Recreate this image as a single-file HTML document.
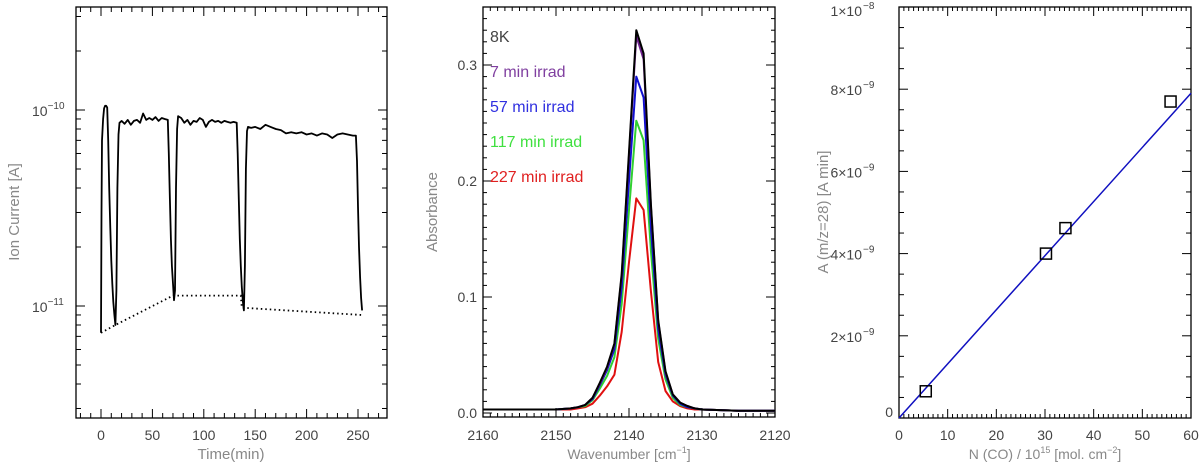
<!DOCTYPE html>
<html><head><meta charset="utf-8"><style>
body{margin:0;background:#fff;}
svg text{font-family:"Liberation Sans",sans-serif;}
</style></head><body>
<svg id="fig" width="1200" height="467" viewBox="0 0 1200 467" xmlns="http://www.w3.org/2000/svg"></svg>
<script>
// ---- Panel 1 data (ion current vs time) ----
const p1Time = [0,0.5,1,2,3,4,5,6,7,8,9,10,11,12,13,14,15,16,17,18,20,23,26,29,32,35,38,41,44,47,50,53,56,59,62,65,66,67,68,69,70,71,72,73,74,75,78,81,84,87,90,93,96,99,102,105,108,111,114,117,120,123,126,129,132,133,134,135,136,137,138,139,140,141,142,143,146,150,155,160,165,170,175,180,185,190,195,200,205,210,215,220,225,230,235,240,245,248,249,250,251,252,253,254];
const p1Current = [7.3e-12,3e-11,7e-11,9e-11,1.02e-10,1.05e-10,1.05e-10,1.03e-10,7e-11,4e-11,2.5e-11,1.7e-11,1.3e-11,1.05e-11,9e-12,8e-12,1.2e-11,4e-11,7.5e-11,8.6e-11,8.8e-11,8.5e-11,8.9e-11,8.4e-11,8.8e-11,8.9e-11,8.6e-11,9.6e-11,8.9e-11,9.1e-11,8.9e-11,9.2e-11,8.8e-11,9.1e-11,9.0e-11,8.9e-11,6e-11,3.5e-11,2.2e-11,1.6e-11,1.3e-11,1.07e-11,1.2e-11,4e-11,8e-11,9.3e-11,9.1e-11,8.6e-11,8.9e-11,8.4e-11,8.8e-11,8.7e-11,9.1e-11,8.9e-11,8.2e-11,8.7e-11,8.9e-11,8.7e-11,8.8e-11,8.6e-11,8.8e-11,8.7e-11,8.6e-11,8.7e-11,8.6e-11,6e-11,3.5e-11,2.2e-11,1.6e-11,1.25e-11,1.05e-11,9.5e-12,1.6e-11,5e-11,7.8e-11,8.2e-11,8.1e-11,8.2e-11,8.0e-11,8.4e-11,8.2e-11,8.0e-11,7.9e-11,7.6e-11,7.7e-11,7.6e-11,7.7e-11,7.5e-11,7.6e-11,7.4e-11,7.6e-11,7.5e-11,7.2e-11,7.5e-11,7.6e-11,7.5e-11,7.4e-11,7.4e-11,5.5e-11,3.2e-11,2e-11,1.4e-11,1.1e-11,9.5e-12];
const p1BaseTime = [0,14,70,136,137,254];
const p1BaseCurrent = [7.3e-12,8e-12,1.13e-11,1.13e-11,9.8e-12,9.0e-12];
const p1XTicks = [0,50,100,150,200,250];

// ---- Panel 2 data (absorbance spectra) ----
const p2Wave = [2160,2155,2150,2148,2147,2146,2145,2144,2143,2142,2141,2140,2139,2138,2137,2136,2135,2134,2133,2132,2131,2130,2125,2120];
const p2Black  = [0.003,0.003,0.003,0.004,0.005,0.007,0.013,0.026,0.040,0.060,0.120,0.225,0.330,0.310,0.180,0.080,0.036,0.016,0.009,0.006,0.004,0.003,0.002,0.002];
const p2Purple = [0.003,0.003,0.003,0.004,0.005,0.007,0.013,0.025,0.039,0.059,0.118,0.222,0.325,0.305,0.178,0.079,0.035,0.016,0.009,0.006,0.004,0.003,0.002,0.002];
const p2Blue   = [0.003,0.003,0.003,0.004,0.005,0.007,0.012,0.024,0.037,0.055,0.108,0.200,0.290,0.272,0.160,0.072,0.033,0.015,0.008,0.005,0.004,0.003,0.002,0.002];
const p2Green  = [0.003,0.003,0.003,0.004,0.005,0.006,0.011,0.021,0.032,0.048,0.094,0.175,0.252,0.235,0.140,0.064,0.029,0.013,0.007,0.005,0.004,0.003,0.002,0.002];
const p2Red    = [0.003,0.003,0.003,0.003,0.004,0.005,0.008,0.015,0.023,0.033,0.070,0.130,0.185,0.175,0.105,0.044,0.019,0.010,0.006,0.004,0.003,0.003,0.002,0.002];
const p2Labels = ["8K","7 min irrad","57 min irrad","117 min irrad","227 min irrad"];
const p2XTicks = [2160,2150,2140,2130,2120];
const p2YTicks = [0.0,0.1,0.2,0.3];

// ---- Panel 3 data ----
const p3N = [5.5,30.2,34.2,55.8];
const p3A = [0.65e-9,4.0e-9,4.62e-9,7.7e-9];
const p3FitX = [0,60];
const p3FitY = [0,7.9e-9];
const p3XTicks = [0,10,20,30,40,50,60];
const p3YTicks = [0,2,4,6,8,10];

const NS="http://www.w3.org/2000/svg";
const svg=document.getElementById('fig');
function mk(tag,attrs,parent){const e=document.createElementNS(NS,tag);for(const k in attrs)e.setAttribute(k,attrs[k]);(parent||svg).appendChild(e);return e;}
function txt(x,y,s,attrs,parent){const e=mk('text',Object.assign({x:x,y:y},attrs),parent);e.textContent=s;return e;}
function poly(xs,ys,fx,fy){return xs.map((v,i)=>fx(v).toFixed(1)+','+fy(ys[i]).toFixed(1)).join(' ');}

// ===== Panel 1 =====
const g1=mk('g',{});


const L1={x0:76,x1:387,y0:7,y1:418};
const x1f=t=>101+(t-0)*(358-101)/250;
const y1f=v=>110-(Math.log10(v)+10)*196;
mk('rect',{x:L1.x0,y:L1.y0,width:L1.x1-L1.x0,height:L1.y1-L1.y0,fill:'none',stroke:'#000','stroke-width':1.3},g1);
for(let t=-20;t<=280;t+=10){const X=x1f(t);if(X<L1.x0+1||X>L1.x1-1)continue;const len=(t%50===0)?9:5;
 mk('line',{x1:X,x2:X,y1:L1.y1,y2:L1.y1-len,stroke:'#000'},g1);mk('line',{x1:X,x2:X,y1:L1.y0,y2:L1.y0+len,stroke:'#000'},g1);}
for(let d=-12;d<=-10;d++){for(let m=1;m<=9;m++){const v=m*Math.pow(10,d);const Y=y1f(v);if(Y<L1.y0+1||Y>L1.y1-1)continue;const len=m===1?9:5;
 mk('line',{x1:L1.x0,x2:L1.x0+len,y1:Y,y2:Y,stroke:'#000'},g1);mk('line',{x1:L1.x1,x2:L1.x1-len,y1:Y,y2:Y,stroke:'#000'},g1);}}
p1XTicks.forEach(t=>{const e=txt(x1f(t),440,String(t),{'text-anchor':'middle','font-size':14,fill:'#444'},g1);});
[[-10,110],[-11,306]].forEach(([d,Y])=>{const e=txt(32,Y+6,'10',{'font-size':14,fill:'#444'},g1);const s=mk('tspan',{dy:-7,'font-size':10},e);s.textContent='\u2212'+(-d);});
let t1=txt(231,459,'Time(min)',{'text-anchor':'middle','font-size':15,fill:'#888'},g1);
let t2=txt(0,0,'Ion Current [A]',{'text-anchor':'middle','font-size':15,fill:'#888',transform:'translate(19,212) rotate(-90)'},g1);
let c1=mk('polyline',{points:poly(p1Time,p1Current,x1f,y1f),fill:'none',stroke:'#000','stroke-width':1.8,'stroke-linejoin':'round'},g1);

let c2=mk('polyline',{points:poly(p1BaseTime,p1BaseCurrent,x1f,y1f),fill:'none',stroke:'#000','stroke-width':1.8,'stroke-dasharray':'1.5,3'},g1);


// ===== Panel 2 =====
const g2=mk('g',{});


const L2={x0:483,x1:775,y0:7,y1:417};
const x2f=w=>483+(2160-w)*(775-483)/40;
const y2f=a=>413-a*1160;
mk('rect',{x:L2.x0,y:L2.y0,width:L2.x1-L2.x0,height:L2.y1-L2.y0,fill:'none',stroke:'#000','stroke-width':1.3},g2);
for(let w=2120;w<=2160;w++){const X=x2f(w);if(X<L2.x0+1||X>L2.x1-1)continue;const len=(w%10===0)?9:4;
 mk('line',{x1:X,x2:X,y1:L2.y1,y2:L2.y1-len,stroke:'#000'},g2);mk('line',{x1:X,x2:X,y1:L2.y0,y2:L2.y0+len,stroke:'#000'},g2);}
for(let i=0;i<=35;i++){const Y=y2f(i/100);if(Y<L2.y0+1)continue;const len=(i%10===0)?9:4;
 mk('line',{x1:L2.x0,x2:L2.x0+len,y1:Y,y2:Y,stroke:'#000'},g2);mk('line',{x1:L2.x1,x2:L2.x1-len,y1:Y,y2:Y,stroke:'#000'},g2);}
p2XTicks.forEach(w=>{const e=txt(x2f(w),440,String(w),{'text-anchor':'middle','font-size':14,fill:'#444'},g2);});
p2YTicks.forEach(a=>{const e=txt(477,y2f(a)+5,a.toFixed(1),{'text-anchor':'end','font-size':14,fill:'#444'},g2);});
let t3=txt(629,459,'Wavenumber [cm',{'text-anchor':'middle','font-size':14,fill:'#888'},g2);const sp=mk('tspan',{dy:-6,'font-size':9},t3);sp.textContent='\u22121';const sp2=mk('tspan',{dy:6},t3);sp2.textContent=']';

let t4=txt(0,0,'Absorbance',{'text-anchor':'middle','font-size':15,fill:'#888',transform:'translate(437,212) rotate(-90)'},g2);
const p2Series=[p2Red,p2Green,p2Blue,p2Purple,p2Black];
const p2Colors=['#e01010','#30d030','#1010d0','#702090','#000000'];
const p2Names=['spectrum-227min','spectrum-117min','spectrum-57min','spectrum-7min','spectrum-8k'];
p2Series.forEach((s,i)=>{const l=mk('polyline',{points:poly(p2Wave,s,x2f,y2f),fill:'none',stroke:p2Colors[i],'stroke-width':2,'stroke-linejoin':'round'},g2);
 });
const labCol=['#444','#8040a0','#3030e0','#40e040','#e02020'];
p2Labels.forEach((s,i)=>{const e=txt(490,42+i*35,s,{'font-size':16,fill:labCol[i]},g2);});

// ===== Panel 3 =====
const g3=mk('g',{});


const L3={x0:899,x1:1191,y0:7,y1:418};
const x3f=n=>899+n*(1191-899)/60;
const y3f=a=>418-a*411/1e-8;
mk('rect',{x:L3.x0,y:L3.y0,width:L3.x1-L3.x0,height:L3.y1-L3.y0,fill:'none',stroke:'#000','stroke-width':1.3},g3);
for(let n=0;n<=60;n++){const X=x3f(n);if(X<L3.x0+1||X>L3.x1-1)continue;const len=(n%10===0)?9:4;
 mk('line',{x1:X,x2:X,y1:L3.y1,y2:L3.y1-len,stroke:'#000'},g3);mk('line',{x1:X,x2:X,y1:L3.y0,y2:L3.y0+len,stroke:'#000'},g3);}
for(let i=0;i<=20;i++){const Y=y3f(i*5e-10);if(Y<L3.y0+1||Y>L3.y1-1)continue;const len=(i%4===0)?9:5;
 mk('line',{x1:L3.x0,x2:L3.x0+len,y1:Y,y2:Y,stroke:'#000'},g3);mk('line',{x1:L3.x1,x2:L3.x1-len,y1:Y,y2:Y,stroke:'#000'},g3);}
p3XTicks.forEach(n=>{const e=txt(x3f(n),440,String(n),{'text-anchor':'middle','font-size':14,fill:'#444'},g3);});
p3YTicks.forEach(v=>{let e;
 const Y=v===10?y3f(1e-8)+9:y3f(v*1e-9)+6;
 if(v===0){e=txt(893,y3f(0)-1,'0',{'text-anchor':'end','font-size':14,fill:'#444'},g3);}
 else{const m=v===10?'1':String(v);const ex=v===10?'\u22128':'\u22129';
  e=txt(862,Y,m+'\u00d710',{'text-anchor':'end','font-size':14,fill:'#444'},g3);
  const t=txt(863,Y-7,ex,{'font-size':10,fill:'#444'},g3);}
 });
let t5=txt(1045,459,'N (CO) / 10',{'text-anchor':'middle','font-size':14,fill:'#888'},g3);const s5=mk('tspan',{dy:-6,'font-size':9},t5);s5.textContent='15';const s6=mk('tspan',{dy:6},t5);s6.textContent=' [mol. cm';const s7=mk('tspan',{dy:-6,'font-size':9},t5);s7.textContent='\u22122';const s8=mk('tspan',{dy:6},t5);s8.textContent=']';

let t6=txt(0,0,'A (m/z=28) [A min]',{'text-anchor':'middle','font-size':15,fill:'#888',transform:'translate(828,212) rotate(-90)'},g3);
let fl=mk('polyline',{points:poly(p3FitX,p3FitY,x3f,y3f),fill:'none',stroke:'#1010c0','stroke-width':1.5},g3);

p3N.forEach((n,i)=>{const r=mk('rect',{x:x3f(n)-5.5,y:y3f(p3A[i])-5.5,width:11,height:11,fill:'none',stroke:'#000','stroke-width':1.5},g3);
 });
</script>
</body></html>
